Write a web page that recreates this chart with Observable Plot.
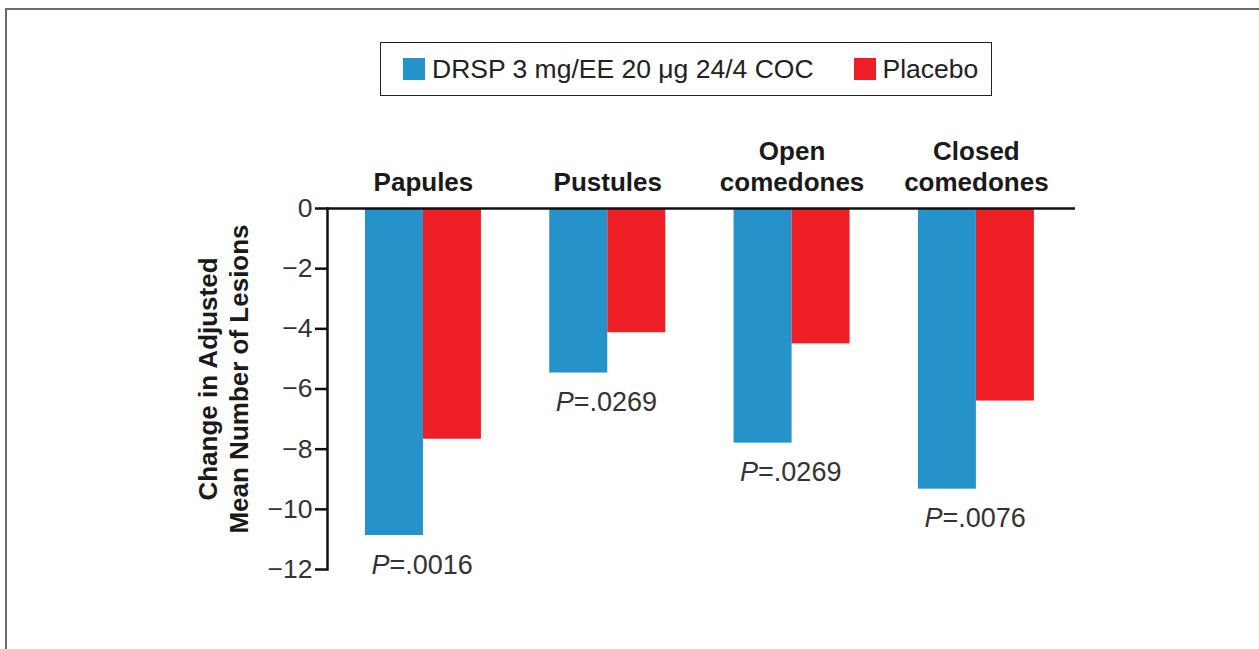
<!DOCTYPE html>
<html>
<head>
<meta charset="utf-8">
<script src="https://cdn.jsdelivr.net/npm/d3@7"></script>
<script src="https://cdn.jsdelivr.net/npm/@observablehq/plot@0.6"></script>
<style>
  html, body { margin: 0; padding: 0; background: #fff; }
  body { width: 1259px; height: 649px; overflow: hidden; position: relative; font-family: "Liberation Sans", Arial, sans-serif; }
  #frame { position: absolute; left: 5px; top: 8px; width: 1400px; height: 800px; border-left: 2.5px solid #6a6a6a; border-top: 2.5px solid #6a6a6a; box-sizing: border-box; }
  #chart { position: absolute; left: 0; top: 0; }
  #legend { position: absolute; left: 380px; top: 42px; width: 612px; height: 54px; box-sizing: border-box; border: 1.5px solid #222; display: flex; align-items: center; padding-left: 22px; font-size: 26.5px; color: #222; background: #fff; }
  .item { display: flex; align-items: center; }
  .sw { width: 22px; height: 22px; margin-right: 7px; }
  .item + .item { margin-left: 40px; }
</style>
</head>
<body>
<div id="frame"></div>
<div id="chart"></div>
<div id="legend"></div>
<script>
const categories = ["Papules", "Pustules", "Open comedones", "Closed comedones"];
const categoryLabels = ["Papules", "Pustules", "Open\ncomedones", "Closed\ncomedones"];
const drspValues = [-10.87, -5.47, -7.8, -9.33];
const placeboValues = [-7.67, -4.13, -4.5, -6.4];
const pValues = [".0016", ".0269", ".0269", ".0076"];
const yTicks = [0, -2, -4, -6, -8, -10, -12];
const seriesNames = ["DRSP 3 mg/EE 20 \u03bcg 24/4 COC", "Placebo"];
const seriesColors = ["#2692ca", "#ee1f26"];
const yTitle = "Change in Adjusted\nMean Number of Lesions";

const drsp = categories.map((c, i) => ({category: c, value: drspValues[i], p: pValues[i]}));
const placebo = categories.map((c, i) => ({category: c, value: placeboValues[i]}));
const labelOf = new Map(categories.map((c, i) => [c, categoryLabels[i]]));

const half = 58;

const plot = Plot.plot({
  width: 1259,
  height: 649,
  marginLeft: 327,
  marginRight: 184,
  marginTop: 208,
  marginBottom: 80,
  style: {fontFamily: "Liberation Sans, Arial, sans-serif", color: "#222", background: "transparent"},
  x: {type: "band", domain: categories, paddingInner: 0.3707, paddingOuter: 0.2144, align: 0.48, round: false},
  y: {domain: [-12, 0]},
  marks: [
    Plot.barY(drsp, {x: "category", y: "value", fill: seriesColors[0], insetRight: half}),
    Plot.barY(placebo, {x: "category", y: "value", fill: seriesColors[1], insetLeft: half}),
    Plot.ruleY([0], {stroke: "#111", strokeWidth: 2.5}),
    Plot.frame({anchor: "left", stroke: "#111", strokeWidth: 2.5}),
    Plot.axisY({ticks: yTicks, tickSize: 12, tickPadding: 3, fontSize: 26.5, stroke: "#111", strokeWidth: 2.5, fill: "#333", label: null}),
    Plot.axisX({anchor: "top", tickSize: 0, tickPadding: 18, fontSize: 26, fontWeight: "bold", lineHeight: 1.19, fill: "#1a1a1a", tickFormat: c => labelOf.get(c), label: null}),
    Plot.text(drsp, {x: "category", y: "value", text: () => "P", textAnchor: "end", lineAnchor: "bottom", dx: -34, dy: 38, fontSize: 27, fontStyle: "italic", fill: "#333"}),
    Plot.text(drsp, {x: "category", y: "value", text: d => "=" + d.p, textAnchor: "start", lineAnchor: "bottom", dx: -34, dy: 38, fontSize: 27, fill: "#333"}),
    Plot.text([yTitle], {frameAnchor: "left", rotate: -90, textAnchor: "middle", lineAnchor: "bottom", dx: -80, dy: -10, fontSize: 26, fontWeight: "bold", lineHeight: 1.19, fill: "#1a1a1a"})
  ]
});
document.getElementById("chart").appendChild(plot);

const legend = document.getElementById("legend");
seriesNames.forEach((name, i) => {
  const item = document.createElement("div");
  item.className = "item";
  const sw = document.createElement("span");
  sw.className = "sw";
  sw.style.background = seriesColors[i];
  const t = document.createElement("span");
  t.textContent = name;
  item.appendChild(sw);
  item.appendChild(t);
  legend.appendChild(item);
});
</script>
</body>
</html>
